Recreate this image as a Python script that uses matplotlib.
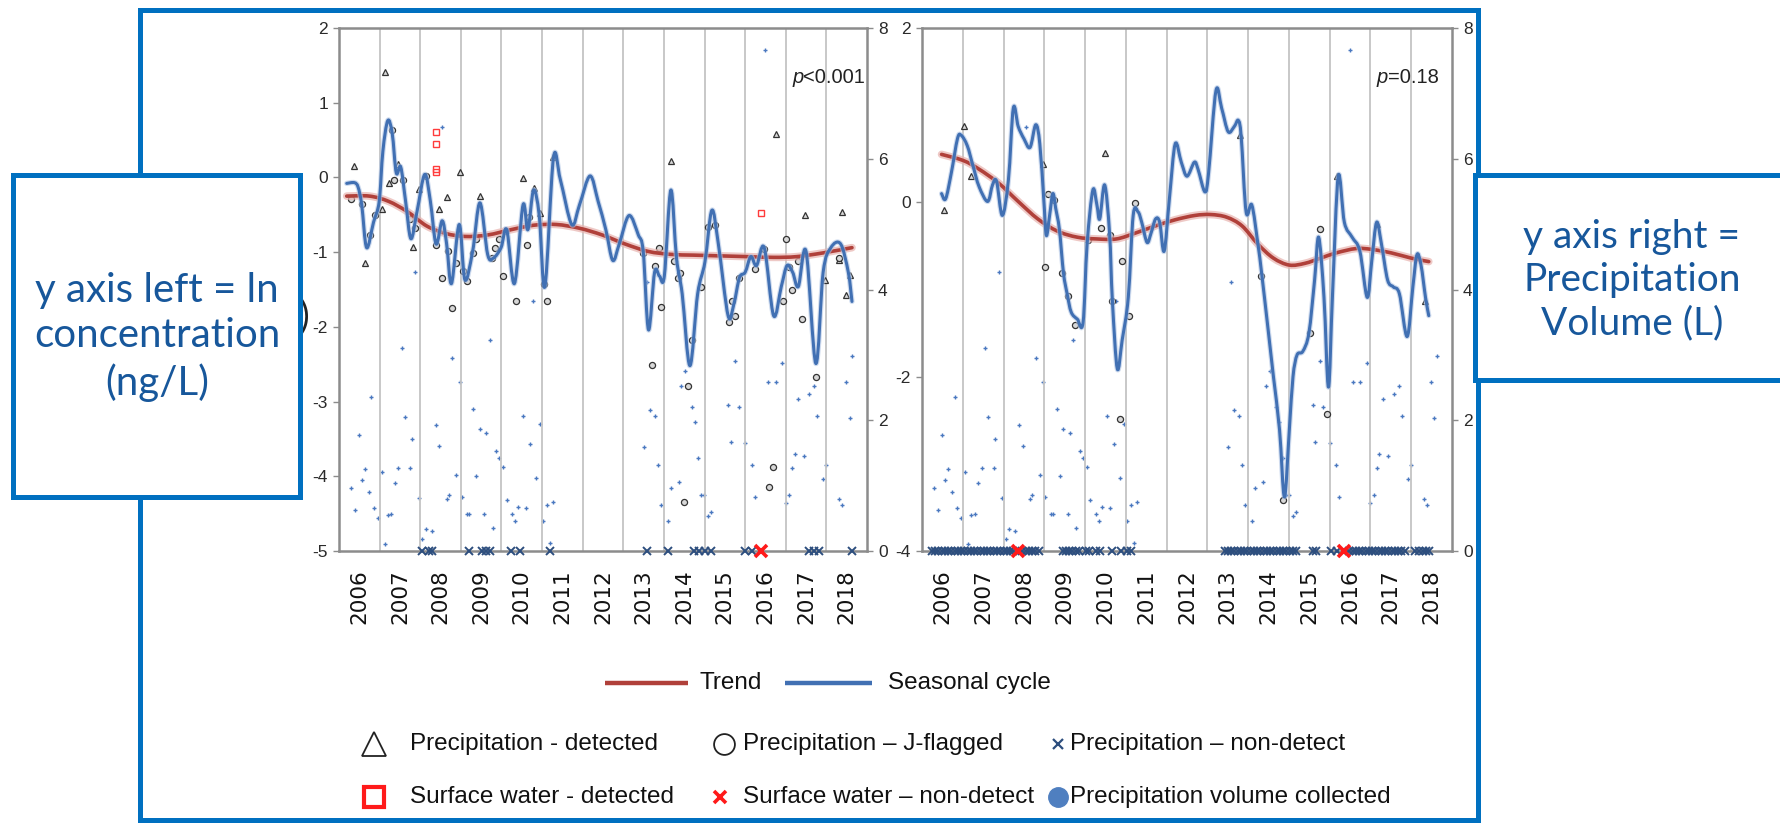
import matplotlib
matplotlib.use('Agg')
import matplotlib.pyplot as plt
from matplotlib.patches import Rectangle, PathPatch
from matplotlib.path import Path

plt.rcParams['font.family'] = ['Liberation Sans', 'DejaVu Sans']
plt.rcParams['axes.unicode_minus'] = False

# ---------------- data ----------------
years = list(range(2006, 2019))
year_labels = [str(y) for y in years]

# Left panel: seasonal cycle (ln conc.)
L_cycle_t = [2006.19, 2006.38, 2006.47, 2006.56, 2006.68, 2006.85, 2006.99, 2007.08, 2007.20, 2007.31,
             2007.41, 2007.52, 2007.64, 2007.77, 2007.92, 2008.11, 2008.25, 2008.39, 2008.54, 2008.65,
             2008.77, 2008.96, 2009.10, 2009.29, 2009.47, 2009.66, 2009.80, 2009.99, 2010.13, 2010.32,
             2010.53, 2010.65, 2010.79, 2010.93, 2011.07, 2011.28, 2011.45, 2011.73, 2011.92, 2012.18,
             2012.38, 2012.57, 2012.74, 2012.90, 2013.14, 2013.37, 2013.49, 2013.62, 2013.77, 2013.89,
             2014.01, 2014.17, 2014.31, 2014.45, 2014.64, 2014.83, 2015.01, 2015.18, 2015.34, 2015.58,
             2015.72, 2015.86, 2016.00, 2016.14, 2016.28, 2016.47, 2016.70, 2016.89, 2017.03, 2017.17,
             2017.31, 2017.50, 2017.74, 2017.92, 2018.11, 2018.35, 2018.54, 2018.63]
L_cycle_v = [-0.08, -0.07, -0.13, -0.37, -0.94, -0.60, -0.32, 0.35, 0.76, 0.59,
             0.06, 0.14, -0.32, -0.82, -0.46, 0.04, -0.32, -0.89, -0.58, -0.89,
             -1.42, -0.63, -1.37, -0.99, -0.34, -1.03, -1.08, -0.94, -0.70, -1.42,
             -0.37, -0.70, -0.17, -0.51, -1.46, 0.26, -0.03, -0.63, -0.37, 0.02,
             -0.32, -0.70, -1.11, -0.89, -0.51, -0.77, -0.99, -2.04, -1.27, -1.32,
             -1.32, -0.17, -1.08, -1.56, -2.52, -1.56, -1.13, -0.44, -0.89, -1.85,
             -1.70, -1.34, -1.27, -1.06, -1.18, -0.94, -1.85, -1.46, -1.18, -1.27,
             -1.46, -0.99, -2.49, -1.27, -0.94, -0.89, -1.27, -1.66]
L_trend_t = [2006.19, 2006.75, 2007.22, 2007.69, 2008.16, 2008.63, 2009.10, 2009.66, 2010.23, 2010.79,
             2011.35, 2011.92, 2012.48, 2013.04, 2013.61, 2014.17, 2014.73, 2015.39, 2016.05, 2016.70,
             2017.27, 2017.92, 2018.63]
L_trend_v = [-0.25, -0.25, -0.32, -0.46, -0.65, -0.75, -0.79, -0.77, -0.70, -0.64,
             -0.63, -0.68, -0.77, -0.89, -0.99, -1.03, -1.04, -1.05, -1.06, -1.07,
             -1.06, -1.01, -0.94]
L_det_t = [2006.38, 2007.13, 2006.64, 2007.22, 2007.46, 2007.97, 2008.46, 2008.65, 2008.98, 2007.81,
           2009.47, 2010.53, 2010.79, 2010.94, 2011.28, 2014.17, 2016.75, 2017.47, 2018.39, 2017.97,
           2018.30, 2007.05, 2018.49, 2018.58]
L_det_v = [0.15, 1.41, -1.15, -0.07, 0.18, -0.16, -0.42, -0.26, 0.07, -0.93,
           -0.25, -0.01, -0.14, -0.47, 0.28, 0.22, 0.58, -0.50, -0.46, -1.37,
           -1.11, -0.42, -1.58, -1.30]
L_jf_t = [2006.30, 2006.56, 2006.77, 2006.89, 2007.30, 2007.36, 2007.58, 2007.74, 2007.88, 2008.14,
          2008.39, 2008.54, 2008.69, 2008.79, 2008.89, 2009.05, 2009.15, 2009.29, 2009.38, 2009.77,
          2009.85, 2009.94, 2010.04, 2010.11, 2010.37, 2010.63, 2010.69, 2011.05, 2011.12, 2013.49,
          2013.70, 2013.77, 2013.87, 2013.92, 2014.26, 2014.34, 2014.40, 2014.59, 2014.69, 2014.50,
          2014.92, 2015.09, 2015.25, 2015.60, 2015.67, 2015.75, 2015.86, 2016.24, 2016.47, 2016.59,
          2016.68, 2016.94, 2017.00, 2017.08, 2017.15, 2017.29, 2017.41, 2017.74, 2018.30]
L_jf_v = [-0.29, -0.36, -0.77, -0.50, 0.63, -0.03, -0.03, -0.56, -0.68, 0.02,
          -0.90, -1.34, -0.99, -1.75, -1.14, -1.25, -1.39, -1.01, -0.82, -1.08,
          -0.94, -0.83, -1.32, -0.72, -1.65, -0.91, -0.53, -1.42, -1.65, -1.01,
          -2.51, -1.18, -0.94, -1.73, -1.12, -1.34, -1.28, -2.79, -2.17, -4.35,
          -1.46, -0.66, -0.64, -1.94, -1.65, -1.85, -1.34, -1.22, -0.96, -4.14,
          -3.88, -1.65, -0.83, -1.20, -1.50, -1.12, -1.89, -2.67, -1.08]
L_sw_t = [2008.38, 2008.38, 2008.38, 2008.39, 2016.38]
L_sw_v = [0.61, 0.45, 0.11, 0.07, -0.47]
L_swnd_t = [2016.38]
L_nd_t = [2008.05, 2008.21, 2008.30, 2009.19, 2009.52, 2009.62, 2009.71, 2010.23, 2010.46, 2011.19,
          2013.59, 2014.09, 2014.73, 2014.87, 2015.01, 2015.15, 2016.00, 2016.16, 2017.58, 2017.69,
          2017.83, 2018.63]

# Right panel
R_cycle_t = [2006.48, 2006.58, 2006.72, 2006.87, 2006.96, 2007.11, 2007.25, 2007.40, 2007.61, 2007.73,
             2007.83, 2007.97, 2008.12, 2008.24, 2008.36, 2008.50, 2008.65, 2008.79, 2008.89, 2008.99,
             2009.05, 2009.13, 2009.21, 2009.28, 2009.37, 2009.47, 2009.56, 2009.66, 2009.81, 2009.95,
             2010.05, 2010.19, 2010.29, 2010.36, 2010.48, 2010.60, 2010.67, 2010.79, 2010.91, 2011.06,
             2011.18, 2011.30, 2011.39, 2011.52, 2011.62, 2011.73, 2011.83, 2011.94, 2012.07, 2012.21,
             2012.36, 2012.50, 2012.68, 2012.77, 2012.94, 2013.03, 2013.21, 2013.35, 2013.51, 2013.66,
             2013.76, 2013.83, 2013.95, 2014.09, 2014.24, 2014.33, 2014.48, 2014.62, 2014.77, 2014.89,
             2015.01, 2015.10, 2015.20, 2015.34, 2015.49, 2015.63, 2015.73, 2015.86, 2015.97, 2016.07,
             2016.21, 2016.36, 2016.55, 2016.74, 2016.92, 2017.03, 2017.15, 2017.27, 2017.42, 2017.56,
             2017.71, 2017.90, 2018.04, 2018.14, 2018.24, 2018.35, 2018.43]
R_cycle_v = [0.10, 0.04, 0.34, 0.73, 0.77, 0.65, 0.42, 0.18, 0.01, 0.20,
             0.24, -0.15, 0.26, 1.08, 0.87, 0.73, 0.63, 0.89, 0.67, 0.01,
             -0.38, -0.15, 0.10, -0.07, -0.31, -0.81, -1.05, -1.26, -1.34, -1.38,
             -0.48, 0.14, -0.03, -0.19, 0.20, -0.35, -1.13, -1.91, -1.58, -1.09,
             -0.15, -0.11, -0.23, -0.46, -0.35, -0.19, -0.23, -0.56, 0.05, 0.67,
             0.46, 0.30, 0.46, 0.38, 0.12, 0.34, 1.28, 1.08, 0.81, 0.87,
             0.94, 0.75, -0.11, -0.03, -0.48, -0.81, -1.42, -2.00, -2.61, -3.38,
             -2.61, -2.00, -1.75, -1.71, -1.50, -0.89, -0.40, -1.09, -2.12, -1.05,
             0.30, -0.23, -0.40, -0.56, -1.09, -0.68, -0.23, -0.48, -0.89, -0.97,
             -1.05, -1.54, -0.97, -0.60, -0.72, -1.09, -1.30]
R_trend_t = [2006.48, 2007.01, 2007.40, 2007.88, 2008.36, 2008.84, 2009.32, 2009.81, 2010.29, 2010.77,
             2011.25, 2011.73, 2012.21, 2012.70, 2013.08, 2013.47, 2013.85, 2014.24, 2014.62, 2015.01,
             2015.39, 2015.78, 2016.16, 2016.65, 2017.03, 2017.51, 2018.00, 2018.43]
R_trend_v = [0.55, 0.48, 0.38, 0.22, 0.01, -0.19, -0.33, -0.40, -0.42, -0.42,
             -0.35, -0.27, -0.20, -0.15, -0.14, -0.17, -0.27, -0.48, -0.64, -0.72,
             -0.70, -0.64, -0.58, -0.53, -0.54, -0.58, -0.64, -0.68]
R_det_t = [2006.53, 2007.04, 2007.20, 2008.96, 2010.50, 2013.80, 2016.19, 2017.16, 2018.33]
R_det_v = [-0.09, 0.88, 0.30, 0.44, 0.57, 0.77, 0.30, -0.25, -1.13]
R_jf_t = [2009.08, 2009.23, 2009.02, 2009.44, 2009.58, 2009.76, 2010.08, 2010.38, 2010.60, 2010.67,
          2010.85, 2010.91, 2011.08, 2011.23, 2014.31, 2014.86, 2015.51, 2015.76, 2015.94]
R_jf_v = [0.10, 0.03, -0.74, -0.81, -1.08, -1.41, -0.43, -0.29, -0.38, -1.13,
          -2.48, -0.67, -1.30, -0.01, -0.85, -3.41, -1.50, -0.31, -2.43]
R_swnd_t = [2008.36, 2016.36]
R_nd_t = [2006.24, 2006.32, 2006.40, 2006.48, 2006.56, 2006.64, 2006.72, 2006.80, 2006.88, 2006.96,
          2007.04, 2007.12, 2007.20, 2007.28, 2007.36, 2007.44, 2007.52, 2007.60, 2007.68, 2007.76,
          2007.84, 2007.92, 2008.00, 2008.08, 2008.16, 2008.24, 2008.46, 2008.54, 2008.62, 2008.70,
          2008.78, 2008.86,
          2009.45, 2009.53, 2009.61, 2009.69, 2009.77, 2009.85, 2010.02, 2010.10, 2010.28, 2010.36,
          2010.65, 2010.88, 2011.03, 2011.12,
          2013.42, 2013.50, 2013.58, 2013.66, 2013.74, 2013.82, 2013.90, 2013.98, 2014.06, 2014.14,
          2014.22, 2014.30, 2014.38, 2014.46, 2014.54, 2014.62, 2014.70, 2014.78, 2014.86, 2014.94,
          2015.02, 2015.10, 2015.18,
          2015.58, 2015.66,
          2016.02, 2016.18, 2016.48, 2016.56, 2016.64, 2016.72, 2016.80, 2016.88, 2016.96, 2017.04,
          2017.12, 2017.20, 2017.28, 2017.36, 2017.44, 2017.52, 2017.60, 2017.68, 2017.76, 2017.84,
          2018.10, 2018.20, 2018.28, 2018.36, 2018.44]

# Precipitation volume collected (L) - same samples in both panels
vol_t = [2006.30, 2006.39, 2006.49, 2006.56, 2006.64, 2006.73, 2006.80, 2006.87, 2006.96, 2007.05,
         2007.13, 2007.20, 2007.29, 2007.38, 2007.46, 2007.55, 2007.62, 2007.76, 2007.80, 2007.88,
         2007.97, 2008.05, 2008.14, 2008.28, 2008.39, 2008.47, 2008.54, 2008.65, 2008.70, 2008.79,
         2008.89, 2008.98, 2009.02, 2009.16, 2009.21, 2009.31, 2009.38, 2009.47, 2009.57, 2009.63,
         2009.71, 2009.78, 2009.87, 2009.94, 2010.04, 2010.13, 2010.27, 2010.34, 2010.41, 2010.53,
         2010.60, 2010.71, 2010.77, 2010.86, 2010.96, 2011.02, 2011.12, 2011.28, 2011.19,
         2013.51, 2013.59, 2013.65, 2013.77, 2013.85, 2013.92, 2014.09, 2014.17, 2014.36, 2014.43,
         2014.53, 2014.69, 2014.76, 2014.85, 2014.92, 2014.99, 2015.09, 2015.17, 2015.58, 2015.65,
         2015.75, 2015.84, 2016.00, 2016.16, 2016.24, 2016.50, 2016.57, 2016.75, 2016.91, 2017.00,
         2017.08, 2017.15, 2017.22, 2017.31, 2017.44, 2017.57, 2017.69, 2017.78, 2017.91, 2017.99,
         2018.32, 2018.39, 2018.49, 2018.57, 2018.63]
vol_v = [0.96, 0.63, 1.78, 1.09, 1.25, 0.90, 2.35, 0.66, 0.51, 1.21,
         0.11, 0.55, 0.57, 1.04, 1.27, 3.10, 2.05, 1.27, 1.72, 4.27,
         0.81, 0.19, 0.33, 0.30, 1.92, 1.61, 6.49, 0.80, 0.85, 2.95,
         1.17, 2.59, 0.82, 0.57, 0.56, 2.17, 1.15, 1.86, 0.57, 1.81,
         3.22, 0.35, 1.53, 1.42, 1.28, 0.78, 0.57, 0.46, 0.67, 2.06,
         0.66, 1.63, 3.82, 1.12, 1.94, 0.46, 0.71, 0.75, 0.12,
         1.59, 4.11, 2.16, 2.06, 1.31, 0.71, 0.46, 0.97, 1.06, 2.52,
         2.76, 2.21, 1.98, 1.43, 0.85, 0.85, 0.54, 0.59, 2.23, 1.67,
         2.91, 2.21, 1.65, 1.31, 0.82, 7.66, 2.58, 2.58, 2.88, 0.74,
         0.85, 1.27, 1.49, 2.32, 1.46, 2.40, 2.52, 2.06, 1.10, 1.31,
         0.79, 0.70, 2.59, 2.03, 2.98]

L_ylim = (-5, 2)
R_ylim = (-4, 2)
L_yticks = [-5, -4, -3, -2, -1, 0, 1, 2]
R_yticks = [-4, -2, 0, 2]
vol_ticks = [0, 2, 4, 6, 8]
L_ptext = ('p', '<0.001')
R_ptext = ('p', '=0.18')

# ---------------- style ----------------
C_TREND = '#B0403A'
C_TREND_HALO = '#E8B2AE'
C_CYCLE = '#4170B3'
C_CYCLE_HALO = '#AFC4E4'
C_VOL = '#4A78C0'
C_ND = '#2D4E7E'
C_SPINE = '#8C8C8C'
C_GRID = '#C4C4C4'
C_FRAME = '#0070C0'
C_BOXTXT = '#17579B'
YEAR_FONT = 'DejaVu Sans'

fig = plt.figure(figsize=(17.81, 8.27), dpi=100)
W, H = 1781, 827


def px_axes(x0, y0, x1, y1):
    return fig.add_axes([x0 / W, 1 - y1 / H, (x1 - x0) / W, (y1 - y0) / H])


def smooth_curve(ax, t, v, **kw):
    """Draw a line through the read points, rendered with smooth cubic segments."""
    pts = list(zip(t, v))
    n = len(pts)
    verts = [pts[0]]
    codes = [Path.MOVETO]
    for i in range(n - 1):
        p0 = pts[i - 1] if i > 0 else pts[i]
        p1 = pts[i]
        p2 = pts[i + 1]
        p3 = pts[i + 2] if i + 2 < n else pts[i + 1]
        c1 = (p1[0] + (p2[0] - p0[0]) / 6.0, p1[1] + (p2[1] - p0[1]) / 6.0)
        c2 = (p2[0] - (p3[0] - p1[0]) / 6.0, p2[1] - (p3[1] - p1[1]) / 6.0)
        verts += [c1, c2, p2]
        codes += [Path.CURVE4] * 3
    patch = PathPatch(Path(verts, codes), fc='none', transform=ax.transData,
                      joinstyle='round', capstyle='round', **kw)
    ax.add_patch(patch)


def draw_panel(ax, ylim, yticks, cyc_t, cyc_v, tr_t, tr_v, det_t, det_v, jf_t, jf_v,
               nd_t, swnd_t, sw_t, sw_v, ptext):
    ax.set_xlim(2006, 2019)
    ax.set_ylim(*ylim)
    nd_level = ylim[0]
    ax.set_yticks(yticks)
    ax.set_yticklabels([str(v) for v in yticks])
    ax.set_xticks([y + 0.5 for y in years])
    ax.set_xticklabels(year_labels, rotation=90, family=YEAR_FONT, fontsize=15.5, color='#111111')
    ax.set_xticks(years[1:], minor=True)
    ax.tick_params(axis='x', which='major', length=0, pad=13)
    ax.tick_params(axis='x', which='minor', length=0)
    ax.tick_params(axis='y', length=4, width=1, color=C_SPINE, labelsize=12.5,
                   labelcolor='#2a2a2a', pad=4)
    ax.grid(True, axis='x', which='minor', color=C_GRID, lw=1.3)
    for s in ax.spines.values():
        s.set_color(C_SPINE)
        s.set_linewidth(1.8)
    ax.set_facecolor('none')

    ax.plot(det_t, det_v, ls='none', marker='^', ms=4.8, mfc='#d8d8d8', mec='#333333', mew=0.9, zorder=3)
    ax.plot(jf_t, jf_v, ls='none', marker='o', ms=4.4, mfc='#d8d8d8', mec='#333333', mew=0.9, zorder=3)
    if sw_t:
        ax.plot(sw_t, sw_v, ls='none', marker='s', ms=5, mfc='none', mec='#FF3B3B', mew=1.0, zorder=3)
    ax.plot(nd_t, [nd_level] * len(nd_t), ls='none', marker='x', ms=6, mec=C_ND, mew=1.4,
            clip_on=False, zorder=4)
    ax.plot(swnd_t, [nd_level] * len(swnd_t), ls='none', marker='x', ms=8, mec='#FF1A1A', mew=2.6,
            clip_on=False, zorder=5)

    smooth_curve(ax, tr_t, tr_v, ec=C_TREND_HALO, lw=5.5, alpha=0.7, zorder=4)
    smooth_curve(ax, tr_t, tr_v, ec=C_TREND, lw=2.6, zorder=4)
    smooth_curve(ax, cyc_t, cyc_v, ec=C_CYCLE_HALO, lw=3.8, alpha=0.6, zorder=5)
    smooth_curve(ax, cyc_t, cyc_v, ec=C_CYCLE, lw=2.2, zorder=5)

    ax.text(0.858, 0.905, ptext[0], transform=ax.transAxes, fontsize=14.5, style='italic',
            ha='left', va='center', color='#222222')
    ax.annotate(ptext[1], xy=(0.858, 0.905), xycoords='axes fraction', xytext=(11, 0),
                textcoords='offset pixels', fontsize=14.5, ha='left', va='center', color='#222222')

    ax2 = ax.twinx()
    ax2.set_ylim(0, 8)
    ax2.set_yticks(vol_ticks)
    ax2.set_yticklabels([str(v) for v in vol_ticks])
    ax2.tick_params(axis='y', length=4, width=1, color=C_SPINE, labelsize=12.5,
                    labelcolor='#2a2a2a', pad=4)
    for s in ax2.spines.values():
        s.set_visible(False)
    ax2.plot(vol_t, vol_v, ls='none', marker='+', ms=3.5, mew=1.0, mec=C_VOL, zorder=2)
    ax.set_zorder(ax2.get_zorder() + 1)
    return ax2


axL = px_axes(339, 28, 867, 551)
draw_panel(axL, L_ylim, L_yticks, L_cycle_t, L_cycle_v, L_trend_t, L_trend_v, L_det_t, L_det_v,
           L_jf_t, L_jf_v, L_nd_t, L_swnd_t, L_sw_t, L_sw_v, L_ptext)
axR = px_axes(922, 28, 1452, 551)
draw_panel(axR, R_ylim, R_yticks, R_cycle_t, R_cycle_v, R_trend_t, R_trend_v, R_det_t, R_det_v,
           R_jf_t, R_jf_v, R_nd_t, R_swnd_t, [], [], R_ptext)

# ---------------- overlay: frame, boxes, legend ----------------
ov = fig.add_axes([0, 0, 1, 1], zorder=20)
ov.set_xlim(0, W)
ov.set_ylim(H, 0)
ov.axis('off')
ov.patch.set_alpha(0)

ov.add_patch(Rectangle((140, 10), 1478 - 140, 820 - 10, fill=False, ec=C_FRAME, lw=3.6, zorder=1))
ov.text(305, 318, ')', fontsize=26, family='Lato', color='#222222', ha='center', va='center', zorder=1)
ov.add_patch(Rectangle((13, 175), 287, 322, fc='white', ec=C_FRAME, lw=3.6, zorder=2))
ov.add_patch(Rectangle((1475, 175), 340, 205, fc='white', ec=C_FRAME, lw=3.6, zorder=2, clip_on=False))
ov.text(157, 337, 'y axis left = ln\nconcentration\n(ng/L)', fontsize=29, family='Lato',
        color=C_BOXTXT, ha='center', va='center', linespacing=1.28, zorder=3)
ov.text(1632, 280, 'y axis right =\nPrecipitation\nVolume (L)', fontsize=28, family='Lato',
        color=C_BOXTXT, ha='center', va='center', linespacing=1.25, zorder=3)

LEG_FS = 17.5
TXT = '#111111'
# row 1
ov.plot([605, 688], [683, 683], color=C_TREND, lw=3.2, solid_capstyle='butt')
ov.text(700, 683, 'Trend', fontsize=LEG_FS, ha='left', va='center', color=TXT)
ov.plot([785, 872], [683, 683], color=C_CYCLE, lw=3.2, solid_capstyle='butt')
ov.text(888, 683, 'Seasonal cycle', fontsize=LEG_FS, ha='left', va='center', color=TXT)
# row 2
ov.plot([374], [744], marker='^', ms=17, mfc='white', mec='#222222', mew=1.3)
ov.text(410, 744, 'Precipitation - detected', fontsize=LEG_FS, ha='left', va='center', color=TXT)
ov.plot([724], [744], marker='o', ms=15, mfc='white', mec='#222222', mew=1.3)
ov.text(743, 744, 'Precipitation \u2013 J-flagged', fontsize=LEG_FS, ha='left', va='center', color=TXT)
ov.plot([1058], [744], marker='x', ms=6.5, mec=C_ND, mew=1.6)
ov.text(1070, 744, 'Precipitation \u2013 non-detect', fontsize=LEG_FS, ha='left', va='center', color=TXT)
# row 3
ov.plot([374], [797], marker='s', ms=15, mfc='white', mec='#FF1A1A', mew=3)
ov.text(410, 797, 'Surface water - detected', fontsize=LEG_FS, ha='left', va='center', color=TXT)
ov.plot([720], [797], marker='x', ms=9, mec='#FF1A1A', mew=2.6)
ov.text(743, 797, 'Surface water \u2013 non-detect', fontsize=LEG_FS, ha='left', va='center', color=TXT)
ov.plot([1058], [797], marker='o', ms=14, mfc='#4F7FC0', mec='#4F7FC0')
ov.text(1070, 797, 'Precipitation volume collected', fontsize=LEG_FS, ha='left', va='center', color=TXT)

fig.savefig('out.png', dpi=100, facecolor='white')
